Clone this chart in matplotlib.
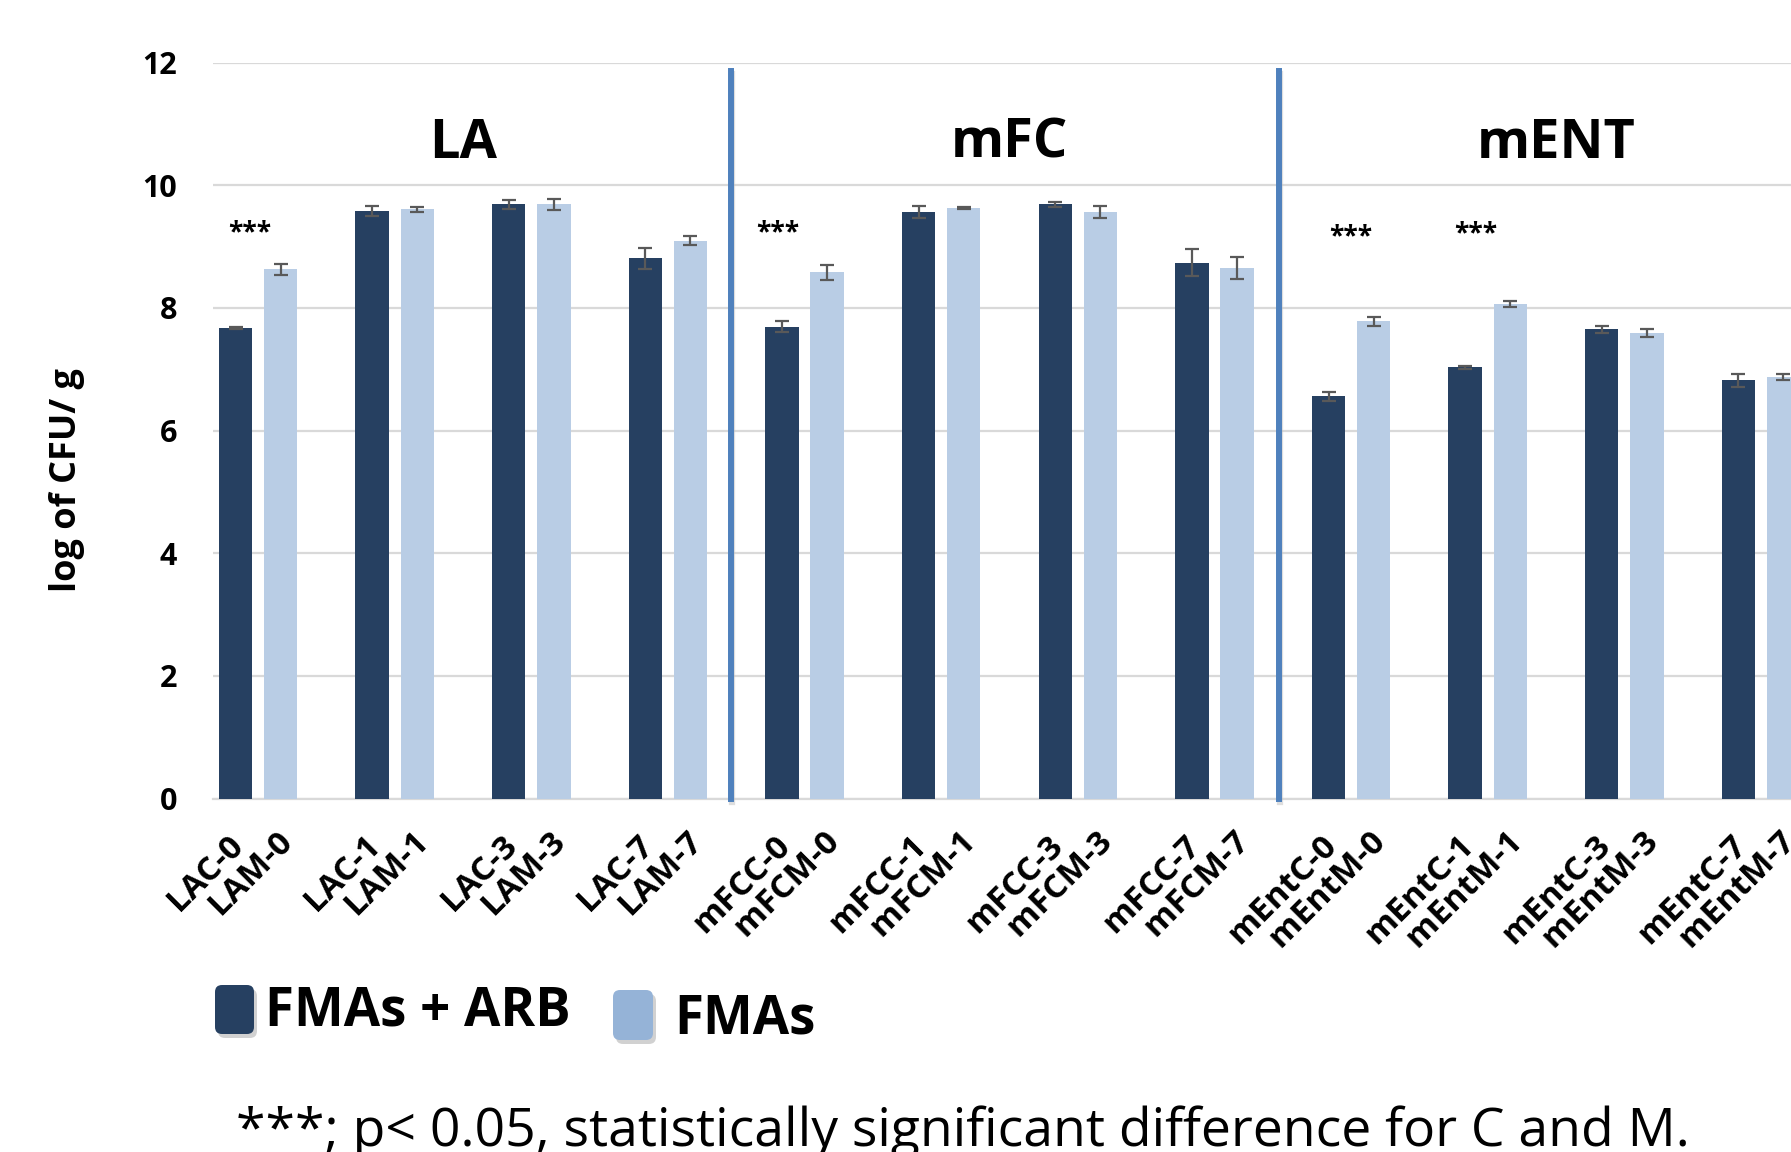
import numpy as np
import matplotlib.pyplot as plt
from matplotlib.patches import FancyBboxPatch
from matplotlib.transforms import ScaledTranslation

plt.rcParams['font.family'] = ['Open Sans', 'DejaVu Sans']

# Data
labels_c = ['LAC-0', 'LAC-1', 'LAC-3', 'LAC-7',
            'mFCC-0', 'mFCC-1', 'mFCC-3', 'mFCC-7',
            'mEntC-0', 'mEntC-1', 'mEntC-3', 'mEntC-7']
labels_m = ['LAM-0', 'LAM-1', 'LAM-3', 'LAM-7',
            'mFCM-0', 'mFCM-1', 'mFCM-3', 'mFCM-7',
            'mEntM-0', 'mEntM-1', 'mEntM-3', 'mEntM-7']
arb_vals = [7.67, 9.58, 9.69, 8.81, 7.69, 9.56, 9.69, 8.74, 6.56, 7.03, 7.65, 6.82]
arb_err = [0.02, 0.087, 0.068, 0.168, 0.09, 0.10, 0.046, 0.225, 0.07, 0.03, 0.054, 0.11]
fma_vals = [8.63, 9.61, 9.69, 9.10, 8.58, 9.63, 9.56, 8.65, 7.78, 8.06, 7.59, 6.87]
fma_err = [0.09, 0.04, 0.087, 0.08, 0.128, 0.01, 0.10, 0.174, 0.068, 0.046, 0.065, 0.05]

groups = ['LA', 'mFC', 'mENT']
group_x = [1.5, 5.5, 9.5]
separators = [3.46, 7.47]
star_x = [-0.06, 3.80, 8.0, 8.91]
star_y = [9.36, 9.36, 9.28, 9.33]

dark = '#264061'
light = '#B9CDE5'
light_legend = '#95B3D7'
sep_color = '#4F81BD'

fig = plt.figure(figsize=(17.91, 11.52), dpi=100)
ax = fig.add_axes([213/1791, 1 - 798.5/1152, 1578/1791, 735.8/1152])

x = np.arange(len(labels_c))
w = 0.244
off = 0.165
ekw = dict(ecolor='#595959', elinewidth=1.6, capthick=1.6)
ax.bar(x - off, arb_vals, w, color=dark, yerr=arb_err, capsize=5, error_kw=ekw, zorder=3)
ax.bar(x + off, fma_vals, w, color=light, yerr=fma_err, capsize=5, error_kw=ekw, zorder=3)

ax.set_xlim(-0.33, 11.22)
ax.set_ylim(0, 12)
ax.set_yticks(np.arange(0, 13, 2))
ax.grid(axis='y', color='#D9D9D9', linewidth=1.6, zorder=0)
ax.set_axisbelow(True)
for s in ['top', 'right', 'left']:
    ax.spines[s].set_visible(False)
ax.spines['bottom'].set_color('#D9D9D9')
ax.spines['bottom'].set_linewidth(1.6)
ax.tick_params(axis='both', length=0)
ax.tick_params(axis='y', pad=26)
for t in ax.get_yticklabels():
    t.set_fontsize(22)
    t.set_fontweight('bold')

# two-line tick labels
tick_text = [c + '\n   ' + m for c, m in zip(labels_c, labels_m)]
ax.set_xticks(x)
ax.set_xticklabels(tick_text, rotation=45, ha='right', va='top',
                   rotation_mode='anchor', multialignment='left',
                   fontsize=24, fontweight='bold', linespacing=1.0)
shift = ScaledTranslation(-5/100, 0, fig.dpi_scale_trans)
for t in ax.get_xticklabels():
    t.set_transform(t.get_transform() + shift)

# separators between panels
for sx in separators:
    ax.plot([sx + 0.01, sx + 0.01], [-0.05, 11.82], color='#BFBFBF', lw=4.5,
            alpha=0.5, zorder=4, clip_on=False)
    ax.plot([sx, sx], [0, 11.87], color=sep_color, lw=4.3, zorder=5, clip_on=False)

for g, gx in zip(groups, group_x):
    ax.text(gx, 10.68, g, ha='center', va='center', fontsize=39, fontweight='bold')

for sx, sy in zip(star_x, star_y):
    ax.text(sx, sy - 0.25, '***', ha='center', va='baseline', fontsize=19,
            fontweight='bold')

fig.text(67/1791, 1 - 480/1152, 'log of CFU/ g', rotation=90, ha='center',
         va='center', fontsize=26, fontweight='bold')

# legend drawn by hand (rounded swatches with a soft shadow)
def swatch(x0, y0, wd, ht, color):
    shadow = FancyBboxPatch((x0 + 3, y0 - 4), wd, ht,
                            boxstyle='round,pad=0,rounding_size=7',
                            transform=None, facecolor='#9a9a9a', edgecolor='none',
                            alpha=0.45)
    box = FancyBboxPatch((x0, y0), wd, ht, boxstyle='round,pad=0,rounding_size=7',
                         transform=None, facecolor=color, edgecolor='none')
    fig.add_artist(shadow)
    fig.add_artist(box)

swatch(215, 1152 - 1034, 39, 49, dark)
swatch(613, 1152 - 1040, 40, 50, light_legend)
fig.text(265/1791, 140/1152, 'FMAs + ARB', ha='left', va='center',
         fontsize=38, fontweight='bold')
fig.text(674/1791, 132/1152, 'FMAs', ha='left', va='center',
         fontsize=38, fontweight='bold')

fig.text(236/1791, 6/1152, '***; p< 0.05, statistically significant difference for C and M.',
         ha='left', va='baseline', fontsize=38.5)

plt.savefig('out.png', dpi=100)
